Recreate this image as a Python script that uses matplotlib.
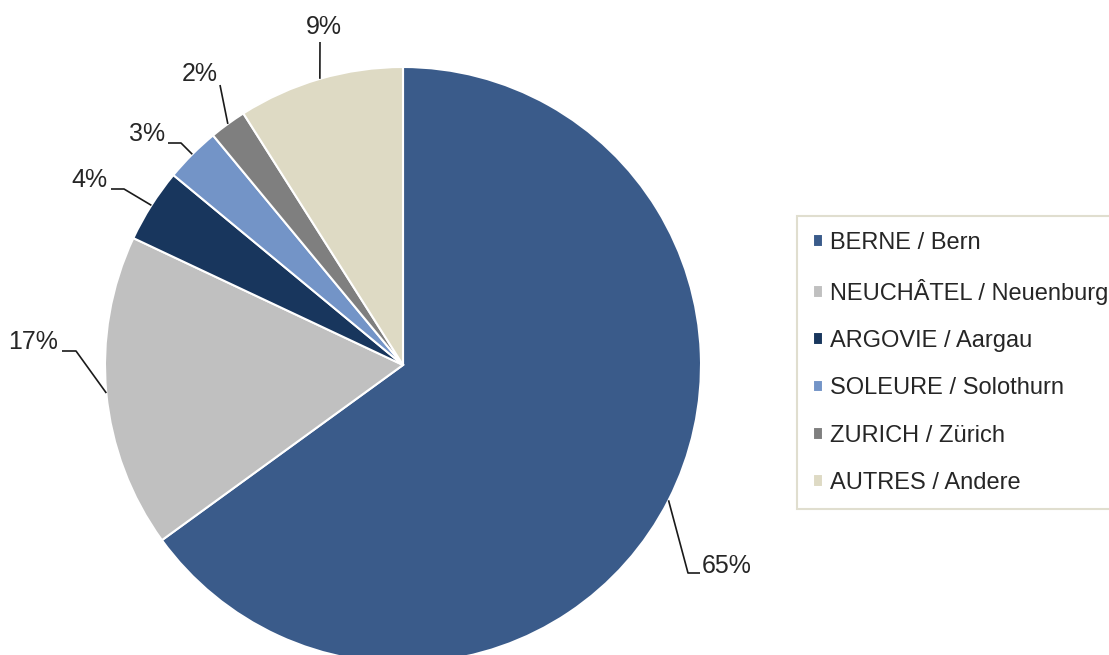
import matplotlib
matplotlib.use("Agg")
import matplotlib.pyplot as plt
import numpy as np

plt.rcParams['font.family'] = ['Liberation Sans', 'DejaVu Sans']

# ---- data ----
categories = ["BERNE / Bern", "NEUCHÂTEL / Neuenburg", "ARGOVIE / Aargau",
              "SOLEURE / Solothurn", "ZURICH / Zürich", "AUTRES / Andere"]
values = [65, 17, 4, 3, 2, 9]
colors = ["#3A5B8A", "#C0C0C0", "#18365D", "#7394C7", "#7F7F7F", "#DEDAC4"]

# ---- layout (pixel coords, y from top) ----
W, H = 1109, 655
cx, cy, R = 403, 365, 298
# elbow point, line end, text anchor, ha for each label
label_layout = [
    ((688, 573), (700, 573), (702, 566), 'left'),
    ((76, 351), (62, 351), (58, 342), 'right'),
    ((124, 189), (111, 189), (108, 180), 'right'),
    ((181, 143), (168, 143), (165, 134), 'right'),
    ((220, 85), (220, 85), (218, 74), 'right'),
    ((320, 42), (320, 42), (324, 27), 'center'),
]

fig = plt.figure(figsize=(W / 100, H / 100), dpi=100)
ax = fig.add_axes([0, 0, 1, 1])

def py(y):
    return H - y

wedges, _ = ax.pie(values, startangle=90, counterclock=False,
                   center=(cx, py(cy)), radius=R, colors=colors,
                   wedgeprops=dict(edgecolor='white', linewidth=1.5))
ax.set_xlim(0, W)
ax.set_ylim(0, H)
ax.set_aspect('equal')
ax.axis('off')

txtcol = '#262626'
for w, v, (elb, end, tpos, ha) in zip(wedges, values, label_layout):
    mid = np.deg2rad((w.theta1 + w.theta2) / 2)
    x0 = cx + R * np.cos(mid)
    y0 = py(cy) + R * np.sin(mid)
    ax.plot([x0, elb[0], end[0]], [y0, py(elb[1]), py(end[1])],
            color='#1a1a1a', lw=1.2, solid_capstyle='butt')
    ax.text(tpos[0], py(tpos[1]), f"{v}%", ha=ha, va='center',
            fontsize=18, color=txtcol)

leg = ax.legend(wedges, categories, loc='upper left',
                bbox_to_anchor=(797 / W, 1 - 216 / H), bbox_transform=fig.transFigure,
                fontsize=17, frameon=True, fancybox=False,
                handlelength=0.45, handleheight=0.45, handletextpad=0.28,
                labelspacing=1.07, borderpad=0.66, borderaxespad=0)
leg.get_frame().set_edgecolor('#D9D6C4')
leg.get_frame().set_linewidth(1.5)
for t in leg.get_texts():
    t.set_color(txtcol)

fig.savefig('out.png', dpi=100)
